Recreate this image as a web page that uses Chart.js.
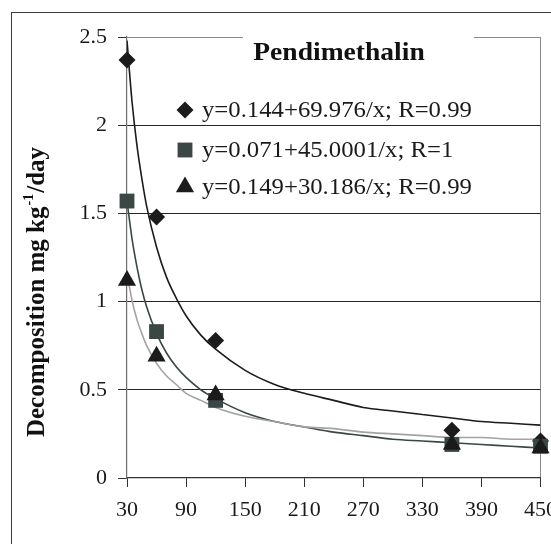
<!DOCTYPE html>
<html><head><meta charset="utf-8">
<script src="https://cdn.jsdelivr.net/npm/chart.js@4"></script>
<style>html,body{margin:0;padding:0;background:#fff}canvas{display:block}</style>
</head><body>
<canvas id="c" width="551" height="544"></canvas>
<script>
// ---- data ----
const chartTitle = 'Pendimethalin';
const yAxisTitleParts = ['Decomposition mg kg', '-1', '/day'];
const xTickValues = [30, 90, 150, 210, 270, 330, 390, 450];
const yTickValues = [0, 0.5, 1, 1.5, 2, 2.5];
const days = [30, 60, 120, 360, 450];
const diamondValues  = [2.37, 1.48, 0.78, 0.27, 0.21];
const squareValues   = [1.57, 0.83, 0.44, 0.19, 0.18];
const triangleValues = [1.12, 0.69, 0.47, 0.19, 0.17];
const legendLabels = [
  'y=0.144+69.976/x; R=0.99',
  'y=0.071+45.0001/x; R=1',
  'y=0.149+30.186/x; R=0.99'
];
// trend curves, values
const curveX      = [30, 35, 40, 45, 50, 60, 70, 80, 90, 105, 120, 150, 180, 210, 240, 270, 300, 330, 360, 390, 420, 450];
const blackCurve  = [2.48, 2.14, 1.89, 1.70, 1.54, 1.31, 1.14, 1.02, 0.92, 0.81, 0.73, 0.61, 0.53, 0.48, 0.44, 0.40, 0.38, 0.36, 0.34, 0.32, 0.31, 0.30];
const slateCurve  = [1.57, 1.36, 1.20, 1.07, 0.97, 0.82, 0.71, 0.63, 0.57, 0.50, 0.45, 0.37, 0.32, 0.29, 0.26, 0.24, 0.22, 0.21, 0.20, 0.19, 0.18, 0.17];
const grayCurve   = [1.16, 1.01, 0.90, 0.82, 0.75, 0.65, 0.58, 0.53, 0.48, 0.44, 0.40, 0.35, 0.32, 0.29, 0.28, 0.26, 0.25, 0.24, 0.23, 0.23, 0.22, 0.22];

// ---- styles ----
const SERIF = '"Liberation Serif", "Times New Roman", serif';
const BLACK = '#1b1b1b';
const SLATE = '#3b4744';
const GRAY = '#a3a3a3';

const pts = (xs, ys) => xs.map((x, i) => ({ x, y: ys[i] }));

const markerStyles = [
  { pointStyle: 'rectRot', radius: 8.5, color: BLACK },
  { pointStyle: 'rect', radius: 10.5, color: SLATE },
  { pointStyle: 'triangle', radius: 10.5, color: BLACK }
];

const decor = {
  id: 'decor',
  beforeDraw(chart) {
    const ctx = chart.ctx;
    ctx.save();
    ctx.fillStyle = '#fff';
    ctx.fillRect(0, 0, chart.width, chart.height);
    ctx.strokeStyle = '#3a3a3a';
    ctx.lineWidth = 1;
    ctx.strokeRect(11.5, 12.5, chart.width + 20, chart.height + 20);
    ctx.restore();
  },
  beforeDatasetsDraw(chart) {
    const ctx = chart.ctx, a = chart.chartArea;
    ctx.save();
    // title with white box over the top gridline
    const cx = a.left + 212, cy = a.top + 16;
    ctx.fillStyle = '#fff';
    ctx.fillRect(cx - 96, a.top - 3, 231, 40);
    ctx.save();
    ctx.translate(cx, cy);
    ctx.scale(1.06, 1);
    ctx.font = 'bold 26px ' + SERIF;
    ctx.fillStyle = '#111';
    ctx.textAlign = 'center';
    ctx.textBaseline = 'middle';
    ctx.fillText(chartTitle, 0, 0);
    ctx.restore();
    // y axis title
    ctx.translate(36, 292);
    ctx.rotate(-Math.PI / 2);
    const big = 'bold 25px ' + SERIF, small = 'bold 14px ' + SERIF;
    ctx.font = big; const w1 = ctx.measureText(yAxisTitleParts[0]).width;
    ctx.font = small; const w2 = ctx.measureText(yAxisTitleParts[1]).width;
    ctx.font = big; const w3 = ctx.measureText(yAxisTitleParts[2]).width;
    let x = -(w1 + w2 + w3 + 2) / 2;
    ctx.textAlign = 'left';
    ctx.textBaseline = 'alphabetic';
    ctx.fillStyle = '#111';
    ctx.font = big; ctx.fillText(yAxisTitleParts[0], x, 8); x += w1 + 1;
    ctx.font = small; ctx.fillText(yAxisTitleParts[1], x, -3); x += w2 + 1;
    ctx.font = big; ctx.fillText(yAxisTitleParts[2], x, 8);
    ctx.restore();
  },
  afterDatasetsDraw(chart) {
    const ctx = chart.ctx, a = chart.chartArea;
    ctx.save();
    const mx = a.left + 58, tx = a.left + 75;
    const rows = [a.top + 73, a.top + 113, a.top + 150];
    legendLabels.forEach((label, i) => {
      const m = markerStyles[i];
      ctx.fillStyle = m.color;
      Chart.helpers.drawPoint(ctx, { pointStyle: m.pointStyle, radius: m.radius, borderWidth: 0, rotation: 0 }, mx, rows[i]);
      ctx.save();
      ctx.translate(tx, rows[i] + 1);
      ctx.scale(1.075, 1);
      ctx.fillStyle = '#1a1a1a';
      ctx.font = '23px ' + SERIF;
      ctx.textAlign = 'left';
      ctx.textBaseline = 'middle';
      ctx.fillText(label, 0, 0);
      ctx.restore();
    });
    ctx.restore();
  }
};

const pointDs = (vals, m, order) => ({
  data: pts(days, vals), showLine: false, order, clip: false,
  pointStyle: m.pointStyle, pointRadius: m.radius, pointHoverRadius: m.radius,
  pointBackgroundColor: m.color, pointBorderWidth: 0, borderWidth: 0
});
const curveDs = (vals, color, order) => ({
  data: pts(curveX, vals), showLine: true, order, pointRadius: 0, pointHoverRadius: 0,
  borderColor: color, borderWidth: 1.6, cubicInterpolationMode: 'monotone', fill: false
});

new Chart(document.getElementById('c'), {
  type: 'scatter',
  data: {
    datasets: [
      pointDs(triangleValues, markerStyles[2], 0),
      pointDs(squareValues, markerStyles[1], 1),
      pointDs(diamondValues, markerStyles[0], 2),
      curveDs(grayCurve, GRAY, 3),
      curveDs(slateCurve, SLATE, 4),
      curveDs(blackCurve, BLACK, 5)
    ]
  },
  options: {
    responsive: false,
    animation: false,
    devicePixelRatio: 1,
    layout: { padding: { top: 37, right: 5, left: 0, bottom: 0 } },
    plugins: { legend: { display: false }, tooltip: { enabled: false }, title: { display: false } },
    scales: {
      x: {
        type: 'linear', min: 30, max: 450,
        afterBuildTicks: s => { s.ticks = xTickValues.map(v => ({ value: v })); },
        afterFit: s => { s.height = 66; s.paddingLeft = 0; s.paddingRight = 0; },
        ticks: { font: { family: SERIF, size: 22 }, color: '#1a1a1a', padding: 10, maxRotation: 0, autoSkip: false,
                 callback: v => String(v) },
        grid: {
          color: c => (c.tick && c.tick.value === 450) ? '#8a8a8a' : 'rgba(0,0,0,0)',
          tickColor: '#333', tickLength: 9, lineWidth: 1, drawOnChartArea: true
        },
        border: { color: '#333', width: 1.2 }
      },
      y: {
        type: 'linear', min: 0, max: 2.5,
        afterBuildTicks: s => { s.ticks = yTickValues.map(v => ({ value: v })); },
        afterFit: s => { s.width = 127; },
        ticks: { font: { family: SERIF, size: 22 }, color: '#1a1a1a', padding: 11, callback: v => String(v) },
        grid: {
          color: c => {
            const v = c.tick ? c.tick.value : null;
            if (v === 2.5) return '#8a8a8a';
            if (v === 0) return 'rgba(0,0,0,0)';
            return '#262626';
          },
          tickColor: '#333', tickLength: 9, lineWidth: 1
        },
        border: { color: '#6e6e6e', width: 1.2 }
      }
    }
  },
  plugins: [decor]
});
</script>
</body></html>
